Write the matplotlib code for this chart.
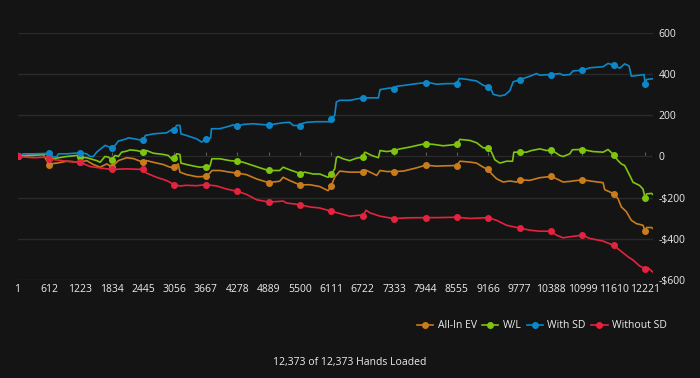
import matplotlib.pyplot as plt

TICKS = [1, 612, 1223, 1834, 2445, 3056, 3667, 4278, 4889, 5500, 6111,
         6722, 7333, 7944, 8555, 9166, 9777, 10388, 10999, 11610, 12221]
Y_TICKS = [600, 400, 200, 0, -200, -400, -600]
Y_LABELS = ["600", "400", "200", "0", "-$200", "-$400", "-$600"]

# With SD (blue)
sd_hands = [1, 118, 312, 612, 701, 766, 798, 960, 1223, 1349, 1414, 1478, 1543, 1705, 1834,
            1900, 1964, 2126, 2159, 2445, 2490, 2645, 2904, 3001, 3056, 3098, 3163, 3183,
            3293, 3487, 3584, 3649, 3667, 3759, 3778, 3941, 4135, 4200, 4278, 4394, 4589,
            4889, 5042, 5172, 5302, 5366, 5500, 5528, 5626, 5820, 6079, 6111, 6177, 6209,
            6274, 6476, 6573, 6722, 7027, 7059, 7253, 7333, 7383, 7513, 7772, 7944, 8031,
            8161, 8355, 8555, 8601, 8744, 8938, 9068, 9166, 9230, 9262, 9392, 9489, 9586,
            9651, 9777, 9845, 9975, 10105, 10170, 10388, 10558, 10623, 10753, 10818, 10999,
            11142, 11401, 11498, 11610, 11725, 11822, 11906, 11951, 12113, 12198, 12221,
            12247, 12340, 12373]
sd_vals = [0, 13, 13, 15, -3, 0, 13, 13, 18, 13, 0, 0, 21, 54, 42,
           54, 75, 86, 91, 78, 102, 110, 115, 130, 130, 151, 151, 110,
           102, 86, 70, 81, 85, 90, 135, 135, 148, 154, 146, 156, 159,
           153, 159, 164, 166, 151, 150, 159, 166, 169, 169, 182, 200, 265,
           273, 273, 278, 285, 285, 325, 333, 330, 341, 345, 354, 359, 358,
           351, 354, 354, 379, 375, 367, 346, 338, 322, 302, 294, 299, 320,
           363, 372, 379, 390, 403, 395, 398, 403, 395, 398, 416, 419,
           431, 436, 452, 444, 429, 450, 440, 390, 395, 398, 351,
           374, 377, 378]

# W/L (green)
wl_hands = [1, 312, 571, 612, 701, 960, 1154, 1223, 1349, 1543, 1608, 1705, 1770, 1834,
            1900, 1964, 2029, 2126, 2191, 2321, 2445, 2515, 2645, 2839, 2936, 3001, 3056,
            3098, 3163, 3183, 3293, 3422, 3552, 3667, 3747, 3785, 3941, 4135, 4278, 4394,
            4589, 4783, 4889, 5107, 5172, 5302, 5431, 5500, 5593, 5755, 5885, 6047, 6111,
            6177, 6209, 6241, 6338, 6468, 6605, 6722, 6767, 6832, 6897, 7027, 7059, 7189,
            7333, 7448, 7642, 7837, 7944, 8096, 8290, 8555, 8614, 8809, 8938, 9068, 9166,
            9230, 9295, 9392, 9521, 9638, 9664, 9777, 9910, 10007, 10170, 10299, 10388,
            10493, 10558, 10623, 10753, 10804, 10999, 11206, 11401, 11498, 11610, 11692,
            11757, 11822, 11906, 11984, 12113, 12178, 12221, 12247, 12340, 12373]
wl_vals = [0, 5, 13, -8, -10, 0, 5, -3, -6, -20, -28, 0, -3, -16,
           5, 0, 21, 26, 32, 29, 21, 29, 16, 10, 5, -11, -8,
           13, 10, -32, -39, -46, -52, -49, -47, -11, -11, -20, -23, -28,
           -44, -60, -68, -68, -52, -65, -76, -85, -76, -85, -85, -101, -85,
           -60, -6, 0, -11, -20, -8, -3, 21, 13, 5, -6, 29, 24,
           29, 37, 46, 57, 62, 59, 52, 59, 83, 78, 67, 42, 41,
           21, -16, -32, -23, -23, 21, 21, 21, 29, 37, 29, 33,
           16, 5, 0, 13, 33, 34, 24, 21, 34, 8, -20,
           -36, -44, -85, -125, -141, -158, -202, -182, -179, -185]

# All-In EV (orange)
ev_hands = [1, 247, 506, 612, 636, 766, 960, 1223, 1349, 1478, 1608, 1738, 1834, 1900,
            1964, 2126, 2256, 2445, 2515, 2645, 2839, 2969, 3056, 3131, 3163, 3293, 3487,
            3584, 3667, 3747, 3785, 3941, 4135, 4278, 4459, 4654, 4889, 5107, 5172, 5302,
            5500, 5690, 5885, 6047, 6111, 6177, 6274, 6468, 6670, 6722, 6767, 6865, 6994,
            7059, 7189, 7333, 7513, 7772, 7944, 8161, 8355, 8555, 8614, 8809, 8938, 9068,
            9166, 9230, 9327, 9456, 9586, 9716, 9777, 9975, 10170, 10388, 10493, 10623,
            10753, 10999, 11206, 11401, 11433, 11610, 11692, 11757, 11854, 11951, 12049,
            12178, 12221, 12247, 12340, 12373]
ev_vals = [0, 8, 8, -39, -36, -32, -23, -28, -20, -39, -52, -36, -49, -36,
           -20, -6, -10, -28, -20, -28, -39, -52, -49, -36, -76, -88, -98,
           -98, -94, -81, -68, -68, -76, -81, -88, -109, -127, -120, -101, -117,
           -138, -137, -146, -166, -141, -100, -71, -76, -76, -77, -65, -76, -92,
           -68, -73, -73, -71, -55, -42, -47, -45, -44, -23, -27, -32, -52,
           -63, -84, -108, -124, -119, -124, -113, -116, -103, -97, -108, -124,
           -121, -113, -121, -127, -161, -181, -205, -245, -268, -310, -326,
           -334, -363, -345, -345, -350]

# Without SD (red)
nsd_hands = [1, 312, 571, 612, 960, 1223, 1414, 1834, 2126, 2321, 2445, 2515, 2709, 2904,
             3056, 3163, 3293, 3487, 3667, 3876, 4071, 4278, 4459, 4654, 4889, 5107, 5172,
             5237, 5500, 5690, 5885, 6111, 6274, 6468, 6670, 6722, 6787, 6865, 7059, 7333,
             7577, 7944, 8161, 8555, 8809, 9166, 9327, 9521, 9777, 9975, 10170, 10388,
             10493, 10623, 10753, 10999, 11142, 11401, 11610, 11725, 11886, 11984, 12113,
             12221, 12275, 12340, 12373]
nsd_vals = [0, -6, -3, -12, -23, -28, -49, -63, -60, -62, -62, -81, -101, -117,
            -137, -143, -140, -142, -137, -143, -158, -169, -184, -210, -221, -218, -216,
            -226, -234, -245, -250, -266, -277, -290, -285, -289, -261, -274, -290, -302,
            -298, -297, -297, -295, -301, -297, -310, -334, -348, -358, -363, -363,
            -382, -395, -390, -382, -398, -411, -432, -455, -487, -503, -532,
            -545, -540, -555, -562]

SERIES = [
    ("All-In EV", ev_hands, ev_vals, "#c97c1c"),
    ("W/L", wl_hands, wl_vals, "#7dc50e"),
    ("With SD", sd_hands, sd_vals, "#0c88c8"),
    ("Without SD", nsd_hands, nsd_vals, "#e4233f"),
]

BG = "#141414"
plt.rcParams['font.family'] = ['Open Sans', 'DejaVu Sans']

fig = plt.figure(figsize=(7, 3.78), dpi=100, facecolor=BG)
ax = fig.add_axes([17.5 / 700, 1 - 280 / 378, (653 - 17.5) / 700, (280 - 33) / 378])
ax.set_facecolor(BG)

for label, hands, vals, color in SERIES:
    marks = [i for i, h in enumerate(hands) if h in TICKS]
    ax.plot(hands, vals, color=color, lw=1.2, marker="o", markersize=4,
            markevery=marks, label=label, zorder=3)

ax.set_xlim(1, 12373)
ax.set_ylim(-600, 600)
ax.set_xticks(TICKS)
ax.set_xticklabels([str(t) for t in TICKS])
ax.set_yticks(Y_TICKS)
ax.set_yticklabels(Y_LABELS)
ax.yaxis.tick_right()
ax.tick_params(axis="both", length=0, colors="#ededed", labelsize=7.5)
ax.tick_params(axis="y", pad=4)
ax.tick_params(axis="x", pad=3)
for t in ax.get_yticklabels():
    t.set_horizontalalignment("left")
ax.grid(axis="y", color="#2a2a2a", lw=1)
for s in ax.spines.values():
    s.set_visible(False)

# zero line with small tick marks
zero = ax.secondary_xaxis(0.5)
zero.set_xticks(TICKS)
zero.set_xticklabels([])
zero.tick_params(length=3, color="#5c5c5c", direction="out", width=0.8)
zero.spines["bottom"].set_color("#5c5c5c")
zero.spines["bottom"].set_linewidth(1.2)

fig.legend(loc="center right", bbox_to_anchor=(676 / 700, 1 - 326 / 378), ncol=4,
           frameon=False, labelcolor="#ededed", fontsize=7.5, handlelength=1.6,
           columnspacing=0.5, handletextpad=0.4)

fig.text(0.5, 1 - 362 / 378, "12,373 of 12,373 Hands Loaded", color="#ededed",
         fontsize=7.5, ha="center", va="center")

fig.savefig("out.png", dpi=100, facecolor=BG)
